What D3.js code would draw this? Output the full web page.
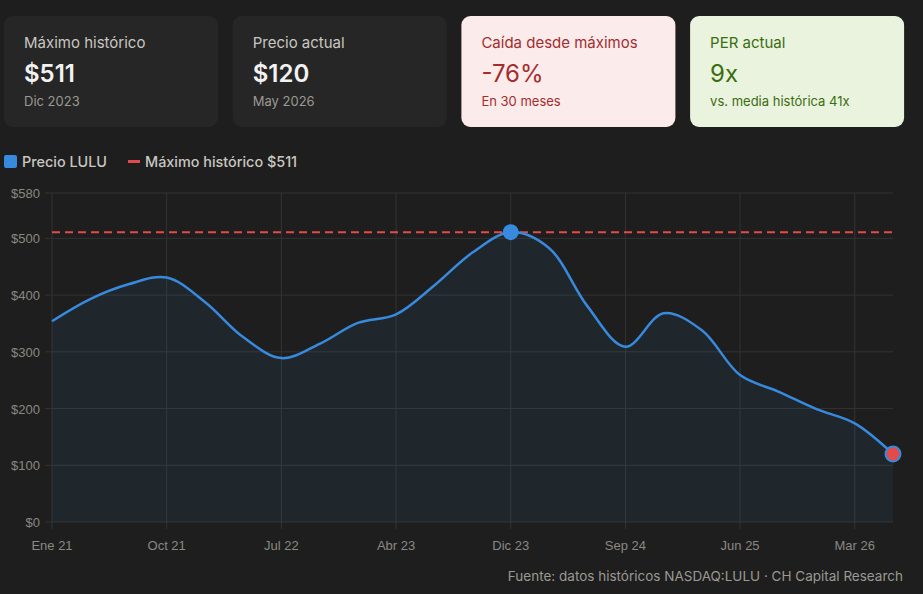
<!DOCTYPE html>
<html>
<head>
<meta charset="utf-8">
<script src="https://cdn.jsdelivr.net/npm/d3@7"></script>
<style>
  body { margin: 0; background: #1e1e1e; width: 923px; height: 594px; overflow: hidden; }
  svg { display: block; }
</style>
</head>
<body>
<svg id="chart" width="923" height="594"></svg>
<script>
// etiquetas trimestrales (la de Dic 23 es el maximo)
let labels = ["Ene 21", "Abr 21", "Jul 21", "Oct 21", "Ene 22", "Abr 22", "Jul 22", "Oct 22",
    "Ene 23", "Abr 23", "Jul 23", "Sep 23", "Dic 23", "Mar 24", "Jun 24", "Sep 24",
    "Dic 24", "Mar 25", "Jun 25", "Sep 25", "Dic 25", "Mar 26", "May 26"]
let prices = [354, 393, 419, 431, 388, 326, 289, 314, 351, 366, 417, 475, 511, 483, 381, 309,
    368, 338, 259, 230, 199, 174, 120]
let yTicks = [0, 100, 200, 300, 400, 500, 580]
let maxPrice = 511

let cards = [
    {label: "Máximo histórico", value: "$511", sub: "Dic 2023", bg: "#262626", c1: "#c9c7c1", c2: "#f2f2f2", c3: "#9b9993"},
    {label: "Precio actual", value: "$120", sub: "May 2026", bg: "#262626", c1: "#c9c7c1", c2: "#f2f2f2", c3: "#9b9993"},
    {label: "Caída desde máximos", value: "-76%", sub: "En 30 meses", bg: "#fcebeb", c1: "#a32d2d", c2: "#a32d2d", c3: "#a32d2d"},
    {label: "PER actual", value: "9x", sub: "vs. media histórica 41x", bg: "#eaf3de", c1: "#3b6d11", c2: "#3b6d11", c3: "#3b6d11"}
]

let svg = d3.select("#chart")
let uiFont = "Inter, 'Noto Sans', sans-serif"
let axisFont = "'Liberation Sans', Arial, sans-serif"

// tarjetas
let card = svg.selectAll(".card").data(cards).join("g")
    .attr("class", "card")
    .attr("transform", (d, i) => "translate(" + (4 + i * 228.7) + ",16)")
card.append("rect").attr("width", 214).attr("height", 111).attr("rx", 9).attr("fill", d => d.bg)
card.append("text").attr("x", 20).attr("y", 32).attr("font-family", uiFont).attr("font-size", 15)
    .attr("fill", d => d.c1).text(d => d.label)
card.append("text").attr("x", 20).attr("y", 66).attr("font-family", uiFont).attr("font-size", 24)
    .attr("font-weight", (d, i) => i < 2 ? 600 : 400).attr("fill", d => d.c2).text(d => d.value)
card.append("text").attr("x", 20).attr("y", 90).attr("font-family", uiFont).attr("font-size", 13)
    .attr("fill", d => d.c3).text(d => d.sub)

// leyenda
let legend = svg.append("g").attr("font-family", uiFont).attr("font-size", 14.4).attr("font-weight", 500)
legend.append("rect").attr("x", 4).attr("y", 155).attr("width", 13).attr("height", 13).attr("rx", 2).attr("fill", "#378add")
legend.append("text").attr("x", 22).attr("y", 167).attr("fill", "#c9c7c1").text("Precio LULU")
legend.append("rect").attr("x", 128).attr("y", 160).attr("width", 12).attr("height", 3).attr("fill", "#e24b4a")
legend.append("text").attr("x", 145).attr("y", 167).attr("fill", "#c9c7c1").text("Máximo histórico $" + maxPrice)

// escalas
let x = d3.scalePoint().domain(labels).range([52, 893])
let y = d3.scaleLinear().domain([0, 580]).range([522, 193])
let pts = labels.map((l, i) => ({label: l, price: prices[i]}))

// rejilla
svg.append("g").selectAll("line").data(yTicks).join("line")
    .attr("x1", 45).attr("x2", 893).attr("y1", d => y(d)).attr("y2", d => y(d))
    .attr("stroke", "#333333").attr("stroke-width", 1)
let shownLabels = labels.filter((l, i) => i % 3 == 0)
svg.append("g").selectAll("line").data(shownLabels).join("line")
    .attr("x1", d => x(d)).attr("x2", d => x(d)).attr("y1", 193).attr("y2", 529)
    .attr("stroke", "#333333").attr("stroke-width", 1)

// ejes
svg.append("g").selectAll("text").data(yTicks).join("text")
    .attr("x", 40).attr("y", d => y(d) + 5).attr("text-anchor", "end")
    .attr("font-family", axisFont).attr("font-size", 13).attr("fill", "#8a8883")
    .text(d => "$" + d)
svg.append("g").selectAll("text").data(shownLabels).join("text")
    .attr("x", d => x(d)).attr("y", 550).attr("text-anchor", "middle")
    .attr("font-family", axisFont).attr("font-size", 13).attr("fill", "#8a8883")
    .text(d => d)

// area + linea
let curve = d3.curveCatmullRom.alpha(0.5)
svg.append("path").datum(pts)
    .attr("d", d3.area().x(d => x(d.label)).y0(y(0)).y1(d => y(d.price)).curve(curve))
    .attr("fill", "rgba(55,138,221,0.08)")
svg.append("line").attr("x1", 52).attr("x2", 893).attr("y1", y(maxPrice)).attr("y2", y(maxPrice))
    .attr("stroke", "#e24b4a").attr("stroke-width", 2).attr("stroke-dasharray", "8,5")
svg.append("path").datum(pts)
    .attr("d", d3.line().x(d => x(d.label)).y(d => y(d.price)).curve(curve))
    .attr("fill", "none").attr("stroke", "#378add").attr("stroke-width", 2.5)

// puntos destacados
let peak = pts[d3.maxIndex(pts, d => d.price)]
let last = pts[pts.length - 1]
svg.append("circle").attr("cx", x(peak.label)).attr("cy", y(peak.price)).attr("r", 8).attr("fill", "#378add")
svg.append("circle").attr("cx", x(last.label)).attr("cy", y(last.price)).attr("r", 7.5)
    .attr("fill", "#e24b4a").attr("stroke", "#378add").attr("stroke-width", 2)

// fuente
svg.append("text").attr("x", 903).attr("y", 581).attr("text-anchor", "end")
    .attr("font-family", uiFont).attr("font-size", 13.5).attr("fill", "#9b9993")
    .text("Fuente: datos históricos NASDAQ:LULU · CH Capital Research")
</script>
</body>
</html>
